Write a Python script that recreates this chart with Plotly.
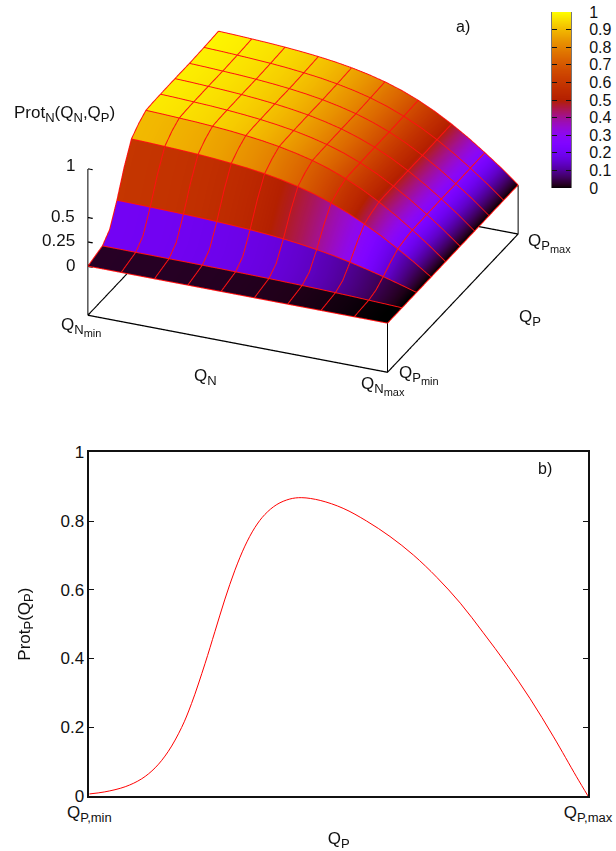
import math
import plotly.graph_objects as go

W, H = 616, 851
FONT = "Liberation Sans"
TXT = "#111111"

# ---- panel a) data -------------------------------------------------------
# samples every half grid cell; the red wire-frame runs on every second one
qn = [i / 18 for i in range(19)]
qp = [i / 18 for i in range(19)]
prot_n = [
    [0] * 19,
    [.025, .025, .025, .024, .024, .024, .023, .023, .022, .021, .020, .019, .017, .015, .012, .010, .007, .004, 0],
    [.050, .050, .049, .049, .048, .048, .047, .046, .044, .042, .040, .037, .034, .030, .025, .020, .013, .007, 0],
    [.140, .139, .138, .137, .135, .133, .131, .128, .124, .119, .113, .105, .095, .083, .070, .055, .038, .020, 0],
    [.360, .358, .355, .352, .348, .343, .336, .328, .318, .305, .289, .269, .244, .215, .180, .140, .097, .050, 0],
    [.620, .616, .611, .606, .599, .590, .579, .565, .548, .526, .498, .464, .421, .370, .309, .242, .167, .087, 0],
    [.830, .825, .818, .811, .802, .790, .775, .757, .734, .704, .667, .621, .564, .495, .414, .324, .223, .116, 0],
    [.910, .905, .897, .889, .879, .866, .850, .830, .804, .772, .732, .681, .618, .542, .454, .355, .245, .127, 0],
    [.966, .960, .952, .944, .933, .920, .902, .881, .854, .819, .777, .723, .656, .576, .482, .377, .260, .135, 0],
    [.972, .966, .958, .950, .939, .925, .908, .886, .859, .824, .781, .727, .660, .579, .485, .379, .261, .136, 0],
    [.974, .968, .960, .952, .941, .927, .910, .888, .861, .826, .783, .729, .661, .581, .486, .380, .262, .136, 0],
    [.975, .969, .961, .953, .942, .928, .911, .889, .862, .827, .784, .729, .662, .581, .487, .380, .262, .137, 0],
    [.976, .970, .962, .954, .943, .929, .912, .890, .863, .828, .785, .730, .663, .582, .487, .381, .263, .137, 0],
    [.976, .970, .962, .954, .943, .929, .912, .890, .863, .828, .785, .730, .663, .582, .487, .381, .263, .137, 0],
    [.975, .969, .961, .953, .942, .928, .911, .889, .862, .827, .784, .729, .662, .581, .487, .380, .262, .137, 0],
    [.978, .972, .964, .956, .945, .931, .913, .892, .865, .829, .786, .732, .664, .583, .488, .381, .263, .137, 0],
    [.981, .975, .967, .958, .948, .934, .916, .895, .867, .832, .789, .734, .666, .585, .490, .383, .264, .137, 0],
    [.985, .979, .971, .962, .952, .938, .920, .898, .871, .835, .792, .737, .669, .587, .492, .384, .265, .138, 0],
    [.990, .984, .976, .967, .956, .942, .925, .903, .875, .840, .796, .741, .672, .590, .494, .386, .266, .139, 0],
]
z_ticks = [0, 0.25, 0.5, 1]
z_tick_labels = ["0", "0.25", "0.5", "1"]
cbar_ticks = [0, .1, .2, .3, .4, .5, .6, .7, .8, .9, 1]
cbar_labels = ["0", "0.1", "0.2", "0.3", "0.4", "0.5", "0.6", "0.7", "0.8", "0.9", "1"]
z_floor = -0.5

# ---- panel b) data -------------------------------------------------------
qp_curve = [0, .031, .072, .105, .132, .158, .185, .205, .232, .252, .272, .292, .312, .332, .352,
            .376, .402, .426, .463, .509, .556, .603, .650, .697, .744, .790, .837, .884, .931, .977, 1]
prot_p = [.006, .012, .027, .050, .082, .129, .199, .269, .385, .479, .573, .657, .727, .781, .819,
          .848, .864, .868, .860, .837, .800, .755, .701, .636, .561, .475, .383, .283, .172, .056, 0]


def rocket(v):
    r = math.sqrt(v)
    g = v ** 3
    b = max(0.0, math.sin(2 * math.pi * v))
    return f"rgb({round(r*255)},{round(g*255)},{round(b*255)})"


colorscale = [[i / 64, rocket(i / 64)] for i in range(65)]


def sub(t):
    return f'<span style="font-size:18.6px"><sub>{t}</sub></span>'


def sub2(t, s):
    return f'<span style="font-size:18.6px"><sub>{t}<span style="font-size:15.7px"><sub>{s}</sub></span></sub></span>'


# every band of cells gets one colour across Q_P (mean of its two edges), so
# band edges are doubled to give the stepped look of the original
sx, sy, sz, sc = [], [], [], []
for c in range(0, len(qp) - 1, 2):
    mean_row = [(a + b) / 2 for a, b in zip(prot_n[c], prot_n[c + 2])]
    for jj in (c, c + 1, c + 2):
        sx.append(list(qn))
        sy.append([qp[jj]] * len(qn))
        sz.append(prot_n[jj])
        sc.append(mean_row)

fig = go.Figure()
fig.add_trace(go.Surface(
    x=sx, y=sy, z=sz, surfacecolor=sc, cmin=0, cmax=1, colorscale=colorscale, showscale=False,
    lighting=dict(ambient=1, diffuse=0, specular=0, fresnel=0, roughness=1),
    hoverinfo="skip", scene="scene",
))

# red wire-frame, slightly lifted from the surface
lift = 0.004
wx, wy, wz = [], [], []
for j in range(0, len(qp), 2):
    wx += list(qn) + [None]
    wy += [qp[j]] * len(qn) + [None]
    wz += [v + lift for v in prot_n[j]] + [None]
for k in range(0, len(qn), 2):
    wx += [qn[k]] * len(qp) + [None]
    wy += list(qp) + [None]
    wz += [prot_n[j][k] + lift for j in range(len(qp))] + [None]
fig.add_trace(go.Scatter3d(x=wx, y=wy, z=wz, mode="lines", line=dict(color="#ff1010", width=2),
                           hoverinfo="skip", showlegend=False, scene="scene"))

# base frame, z axis and its ticks, traced a few times to darken the thin GL lines
x0, x1, y0, y1 = qn[0], qn[-1], qp[0], qp[-1]
zt = z_ticks[-1]
bx = [x0, x1, x1, x0, x0, None, x1, x1, None, x1, x1, None, x0, x0]
by = [y0, y0, y1, y1, y0, None, y0, y0, None, y1, y1, None, y0, y0]
bz = [z_floor, z_floor, z_floor, z_floor, z_floor, None, z_floor, 0, None, z_floor, 0, None, z_floor, zt]
for t in z_ticks:
    bx += [None, x0, x0 + 0.016]
    by += [None, y0, y0]
    bz += [None, t, t]
for i in range(3):
    fig.add_trace(go.Scatter3d(x=bx, y=by, z=[None if v is None else v + 0.0015 * i for v in bz],
                               mode="lines", line=dict(color="#000000", width=2),
                               hoverinfo="skip", showlegend=False, scene="scene"))

# lower panel
fig.add_trace(go.Scatter(x=qp_curve, y=prot_p, mode="lines", xaxis="x", yaxis="y",
                         line=dict(color="#ff0000", width=1, shape="spline", smoothing=1.0, simplify=False),
                         hoverinfo="skip", showlegend=False))

# colour key as a small axes pair
levels = [i / 255 for i in range(256)]
fig.add_trace(go.Heatmap(x=[0, 1], y=levels, z=[[v, v] for v in levels], zmin=0, zmax=1,
                         colorscale=colorscale, showscale=False, xaxis="x2", yaxis="y2",
                         hoverinfo="skip", zsmooth="fast"))

hidden = dict(visible=False, showspikes=False)
R = 1.25
eye = dict(x=0.349 * R, y=-0.823 * R, z=0.449 * R)


def ann(text, xp, yp, size=17, anchor="center", **kw):
    return dict(text=text, x=xp / W, y=1 - yp / H, xref="paper", yref="paper", showarrow=False,
                xanchor=anchor, yanchor="middle", font=dict(family=FONT, size=size, color=TXT), **kw)


anns = [
    ann("Prot" + sub("N") + "(Q" + sub("N") + ",Q" + sub("P") + ")", 64, 114),
    ann("a)", 463, 27, size=16),
    ann("Q" + sub("N"), 206, 377),
    ann("Q" + sub("P"), 530, 318),
    ann("Q" + sub2("N", "min"), 81, 327),
    ann("Q" + sub2("N", "max"), 383, 386),
    ann("Q" + sub2("P", "min"), 419, 375),
    ann("Q" + sub2("P", "max"), 549, 243),
    ann("b)", 545, 469, size=16),
]
for t, lab, yp in zip(z_ticks, z_tick_labels, [265, 240, 216, 166]):
    anns.append(ann(lab, 77, yp, anchor="right"))

tf = dict(family=FONT, size=17, color=TXT)
fig.update_layout(
    width=W, height=H, margin=dict(l=0, r=0, t=0, b=0, autoexpand=False),
    paper_bgcolor="white", plot_bgcolor="white", showlegend=False,
    font=dict(family=FONT, size=17, color=TXT),
    scene=dict(
        domain=dict(x=[0, 606 / W], y=[448 / H, 1]),
        xaxis=dict(range=[x0, x1], **hidden),
        yaxis=dict(range=[y0, y1], **hidden),
        zaxis=dict(range=[z_floor, 1], **hidden),
        aspectmode="manual", aspectratio=dict(x=1.615, y=1.66, z=0.814),
        camera=dict(eye=eye, up=dict(x=0, y=0, z=1), center=dict(x=0, y=0, z=0),
                    projection=dict(type="orthographic")),
        bgcolor="rgba(0,0,0,0)",
    ),
    xaxis=dict(domain=[89.3 / W, 588 / W], range=[0, 1], tickvals=[0, 1],
               ticktext=["Q" + sub("P,min"), "Q" + sub("P,max")], ticks="", showgrid=False,
               zeroline=False, showline=True, mirror=True, linecolor="#111111", linewidth=1.5,
               tickfont=tf,
               title=dict(text="Q" + sub("P"), standoff=12, font=tf)),
    yaxis=dict(domain=[(H - 796) / H, (H - 452.3) / H], range=[0, 1], dtick=0.2, tick0=0,
               ticks="inside", ticklen=5, tickcolor="#111111", showgrid=False, zeroline=False,
               showline=True, mirror="ticks", linecolor="#111111", linewidth=1.5,
               tickfont=tf,
               title=dict(text="Prot" + sub("P") + "(Q" + sub("P") + ")", standoff=26, font=tf)),
    xaxis2=dict(domain=[552 / W, 571 / W], anchor="y2", range=[0, 1], visible=False, fixedrange=True),
    yaxis2=dict(domain=[(H - 188) / H, (H - 12) / H], anchor="x2", side="right", range=[0, 1],
                tickvals=cbar_ticks, ticktext=cbar_labels, ticks="inside", ticklen=5,
                tickcolor="#111111", showgrid=False, zeroline=False, showline=True,
                mirror="allticks", linecolor="#777777", linewidth=1,
                tickfont=dict(family=FONT, size=16, color=TXT), ticklabelstandoff=14),
    annotations=anns,
)

fig.write_html("out.html", post_script="document.body.style.margin='0';",
               config=dict(displayModeBar=False))
